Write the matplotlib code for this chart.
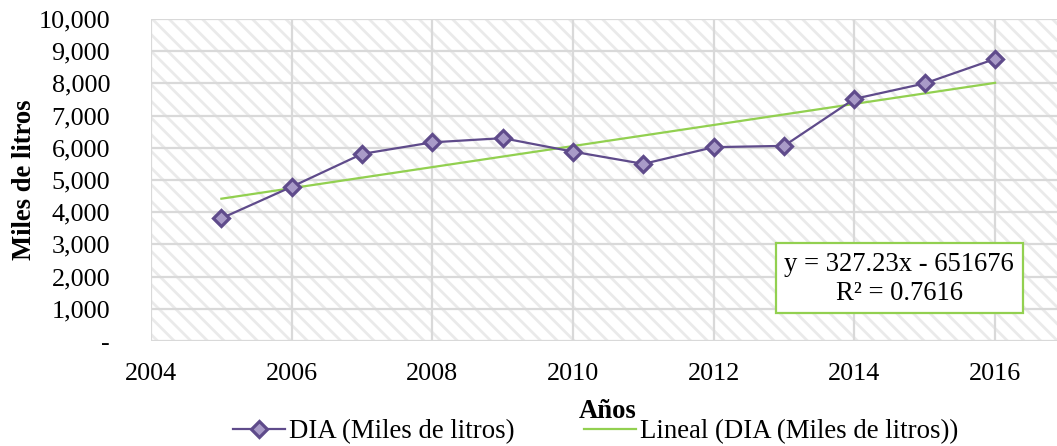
import numpy as np
import matplotlib
matplotlib.use("Agg")
import matplotlib.pyplot as plt
from matplotlib.patches import Rectangle

years = [2005, 2006, 2007, 2008, 2009, 2010, 2011, 2012, 2013, 2014, 2015, 2016]
dia = [3810, 4790, 5810, 6170, 6300, 5880, 5500, 6020, 6060, 7520, 8000, 8760]
y_ticks = [0, 1000, 2000, 3000, 4000, 5000, 6000, 7000, 8000, 9000, 10000]
y_labels = ["-", "1,000", "2,000", "3,000", "4,000", "5,000", "6,000",
            "7,000", "8,000", "9,000", "10,000"]
x_ticks = [2004, 2006, 2008, 2010, 2012, 2014, 2016]
eq_text = "y = 327.23x - 651676\nR\u00b2 = 0.7616"

plt.rcParams['font.family'] = ['Liberation Serif', 'DejaVu Serif']
plt.rcParams['hatch.linewidth'] = 2.0

purple = "#5F4B8B"
lavender = "#A99BC8"
green = "#92D050"
grid_col = "#D9D9D9"

fig = plt.figure(figsize=(10.57, 4.46), dpi=100)
ax = fig.add_axes([0.1429, 0.2354, 0.8571, 0.7220])

# hatched plot area
ax.patch.set_visible(False)
ax.add_patch(Rectangle((0, 0), 1, 1, transform=ax.transAxes, facecolor="white",
                       edgecolor="#EAEAEA", hatch="\\\\", linewidth=0, zorder=0))

# linear trend from the data
coef = np.polyfit(years, dia, 1)
trend = np.polyval(coef, years)

ax.plot(years, dia, color=purple, lw=1.6, marker="D", ms=8.5, mfc=lavender,
        mec=purple, mew=2.3, zorder=4, label="DIA (Miles de litros)")
ax.plot(years, trend, color=green, lw=1.6, zorder=3,
        label="Lineal (DIA (Miles de litros))")

ax.set_xlim(2004, 2016.88)
ax.set_ylim(0, 10000)
ax.set_xticks(x_ticks)
ax.set_yticks(y_ticks)
ax.set_yticklabels(y_labels)
ax.tick_params(axis="both", length=0, labelsize=18.8)
ax.tick_params(axis="y", pad=29.5)
ax.tick_params(axis="x", pad=16)
for s in ax.spines.values():
    s.set_visible(False)
ax.set_axisbelow(True)
ax.grid(True, color=grid_col, lw=1.6)

ax.set_ylabel("Miles de litros", fontsize=19.2, fontweight="bold", labelpad=1)
fig.text(0.575, 0.062, "Años", fontsize=19.2, fontweight="bold", ha="center",
         va="baseline")

# trendline equation box
ax.add_patch(Rectangle((0.690, 0.087), 0.2725, 0.217, transform=ax.transAxes,
                       facecolor="white", edgecolor=green, lw=1.6, zorder=6))
ax.text(0.826, 0.193, eq_text, transform=ax.transAxes, fontsize=19.2,
        ha="center", va="center", linespacing=1.2, zorder=7)

fig.legend(loc="center", bbox_to_anchor=(0.5635, 0.032), ncol=2, frameon=False,
           fontsize=19.3, handlelength=1.95, handletextpad=0.15, columnspacing=2.6,
           borderaxespad=0, borderpad=0)

fig.savefig("out.png", dpi=100)
